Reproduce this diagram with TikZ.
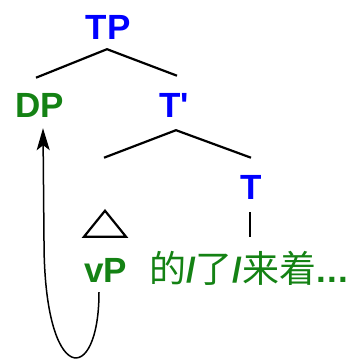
\documentclass[tikz,border=0pt]{standalone}
\usepackage{fontspec}
\setmainfont{Liberation Sans}
\newfontfamily\cjkfont{Noto Sans CJK SC}
\usetikzlibrary{arrows.meta}
\usetikzlibrary{calc}
\definecolor{headcolor}{RGB}{0,0,255}
\definecolor{phrasecolor}{RGB}{20,130,20}
\newcommand{\zh}[1]{{\mdseries\cjkfont\fontsize{37}{40}\selectfont #1}}
\tikzset{
  head/.style={text=headcolor,font=\fontsize{35}{40}\selectfont\bfseries,anchor=base,inner sep=0pt},
  phrase/.style={text=phrasecolor,font=\fontsize{35}{40}\selectfont\bfseries,anchor=base,inner sep=0pt},
  branch/.style={black,line width=2.2pt},
  movement/.style={black,line width=1.5pt,-{Stealth[length=22pt,width=13pt,inset=5pt]}}
}
\begin{document}
\begin{tikzpicture}[x=1pt,y=1pt]
\useasboundingbox (0,0) rectangle (354,361);
%% tree nodes
   \node[head] (TP) at (108,321) {TP};
   \node[phrase] (DP) at (40,243) {DP};
   \node[head] (Tbar) at (174,243) {T\textquotesingle};
   \node[head] (T) at (251,161) {T};
   \node[phrase] (vP) at (105.5,78) {vP};
   \node[phrase,anchor=base west] (part) at (149,78) {\zh{的}/\zh{了}/\zh{来着}.\kern1pt.\kern1pt.};
%% branches
   \draw[branch] ($(DP.north)+(-4,16)$) -- ($(TP.south)+(-1,-9)$) -- ($(Tbar.north)+(3,18)$);
   \draw[branch] ($(vP.north)+(-1.5,101)$) -- ($(Tbar.south)+(2,-12)$) -- ($(T.north)+(0,18)$);
   \draw[branch,line width=1.8pt] (T.south) ++(-1,-12) -- ++(0,-25);
%% roof over vP
   \draw[branch,line join=miter] ($(vP.north)+(-21.5,22)$) -- ($(vP.north)+(-0.5,48)$) -- ($(vP.north)+(20.5,22)$) -- cycle;
%% movement arrow
   \draw[movement] ($(vP.south)+(-6.5,-9)$) .. controls (99,-26) and (44,-26) .. (44,120) -- ($(DP.south)+(3,-10)$);
\end{tikzpicture}
\end{document}
